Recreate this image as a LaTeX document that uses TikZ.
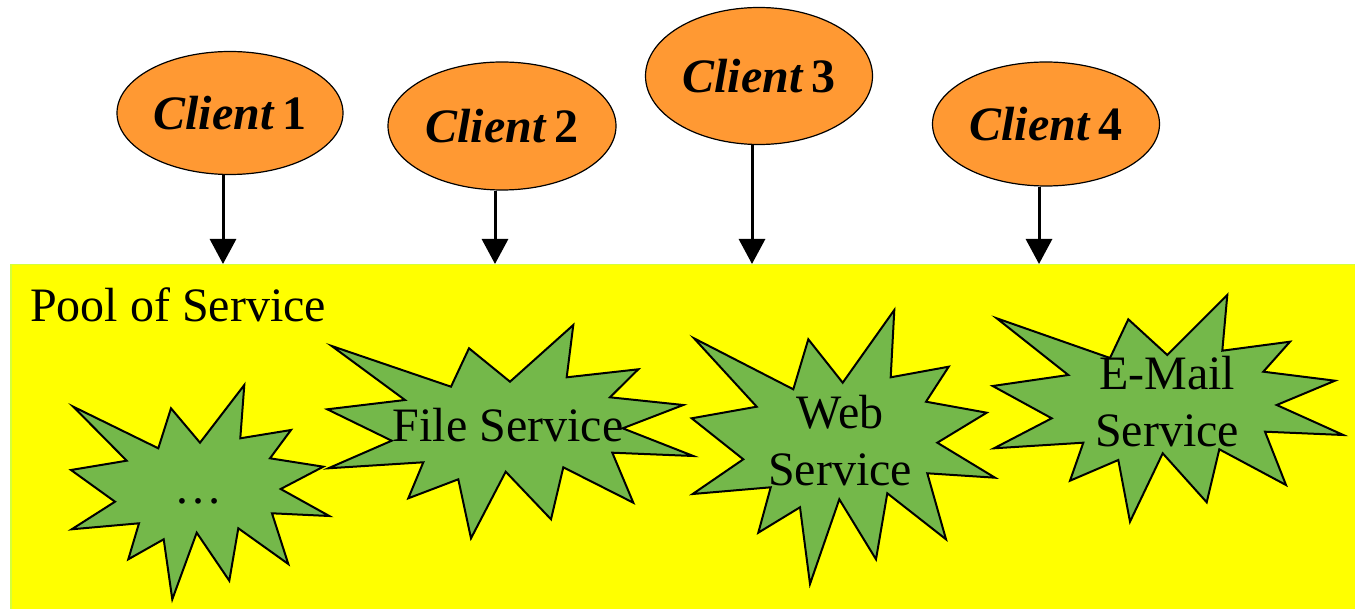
\documentclass[tikz,border=0pt]{standalone}
\usepackage{fontspec}
\setmainfont{Liberation Serif}
\usetikzlibrary{shapes.geometric,arrows.meta}
\definecolor{clientfill}{HTML}{FF9933}
\definecolor{starfill}{HTML}{74B84A}
\definecolor{poolfill}{HTML}{FFFF00}
\definecolor{poolline}{HTML}{D4FF3C}
\tikzset{
  client/.style={ellipse, draw=black, line width=1.2pt, fill=clientfill,
    inner sep=0pt, font=\fontsize{48}{52}\selectfont\bfseries},
  burst/.style={draw=black, line width=2pt, line join=miter, fill=starfill},
  label/.style={font=\fontsize{48}{57}\selectfont, align=center, inner sep=0pt},
  link/.style={line width=3pt, -{Triangle[width=26pt,length=25pt]}},
}
\begin{document}
\begin{tikzpicture}[x=1pt,y=-1pt]
\useasboundingbox (0,0) rectangle (1355,609);
% service pool
\node[draw=poolline, line width=1.5pt, fill=poolfill, inner sep=0pt,
      minimum width=1346pt, minimum height=346pt, anchor=north west]
      (pool) at (10,264) {};
\node[label, anchor=base west] (pooltitle) at (30,322) {Pool of Service};

% clients
\node[client, minimum width=226pt, minimum height=123pt] (c1) at (230,113) {\textit{Client}\,1};
\node[client, minimum width=228pt, minimum height=128pt] (c2) at (502,126) {\textit{Client}\,2};
\node[client, minimum width=227pt, minimum height=137pt] (c3) at (759,76) {\textit{Client}\,3};
\node[client, minimum width=227pt, minimum height=124pt] (c4) at (1046,124) {\textit{Client}\,4};

% requests into the pool
\foreach \c in {c1,c2,c3,c4}{
  \coordinate (\c-from) at ([xshift=-7pt]\c.south);
  \draw[link] (\c-from) -- (\c-from |- pool.north);
}

% unnamed services
\draw[burst] (73.3,406.7) -- (158.3,448.3) -- (171,408.3) -- (200,442.7) -- (244.3,385)
  -- (240.3,438.3) -- (291,430) -- (270,458.3) -- (323.3,466.7) -- (280.7,489)
  -- (329.3,516) -- (272,513.3) -- (288.3,564) -- (238.3,528.3) -- (229.3,580.7)
  -- (196.7,532.7) -- (172.3,599.3) -- (163.7,539.3) -- (128.3,559.3) -- (139,523.3)
  -- (71.7,529.3) -- (115,501.7) -- (71,470) -- (126.7,460.7) -- cycle;
\node[label, anchor=base] (s0) at (198,503) {…};

% file service
\draw[burst] (331.7,346) -- (451,386.7) -- (469,348.3) -- (510,381.7) -- (573.3,325)
  -- (566.7,377.3) -- (638.3,369.3) -- (610,397.3) -- (683.3,405) -- (622.7,428.3)
  -- (693.3,456) -- (612.3,452.7) -- (633.3,502.7) -- (563.3,467.3) -- (551,519.3)
  -- (505.7,471.7) -- (471,538.3) -- (458.3,479.3) -- (408.3,498.3) -- (423.3,462.3)
  -- (328.3,468.3) -- (391.7,440.7) -- (327.3,409.3) -- (405,400) -- cycle;
\node[label, anchor=base] (s1) at (508,441.7) {File Service};

% web service (base anchor sits on the last line)
\draw[burst] (694,338.3) -- (793.3,389.3) -- (808.3,339.3) -- (842.7,382.7) -- (894.3,310)
  -- (890.7,377.3) -- (948.7,366.7) -- (926,401.7) -- (986.7,412.7) -- (937.3,442.7)
  -- (995,477.7) -- (927.3,473.3) -- (946,539.3) -- (887.3,493.3) -- (876,559.3)
  -- (839.3,499.3) -- (810,584) -- (800,507.3) -- (758.3,532.7) -- (770.7,487.3)
  -- (692.7,494) -- (743.3,459.3) -- (691.7,418.3) -- (756.7,406.7) -- cycle;
\node[label, anchor=base] (s2) at (840,485) {Web\\Service};

% e-mail service
\draw[burst] (996.7,318.3) -- (1110,358) -- (1128.3,319.3) -- (1167.3,355) -- (1227.3,295)
  -- (1222.3,350.7) -- (1290,341.7) -- (1263.3,371.7) -- (1335,380.7) -- (1276.7,405)
  -- (1343.3,435) -- (1265,431.7) -- (1286,485) -- (1219.3,449.3) -- (1206.7,502.3)
  -- (1162.7,453.3) -- (1130,521.7) -- (1118.3,460) -- (1070,480.7) -- (1083.3,442.7)
  -- (994,448.3) -- (1051.7,418.3) -- (992.7,386) -- (1068.3,375) -- cycle;
\node[label, anchor=base] (s3) at (1167,446.7) {E-Mail\\Service};
\end{tikzpicture}
\end{document}
